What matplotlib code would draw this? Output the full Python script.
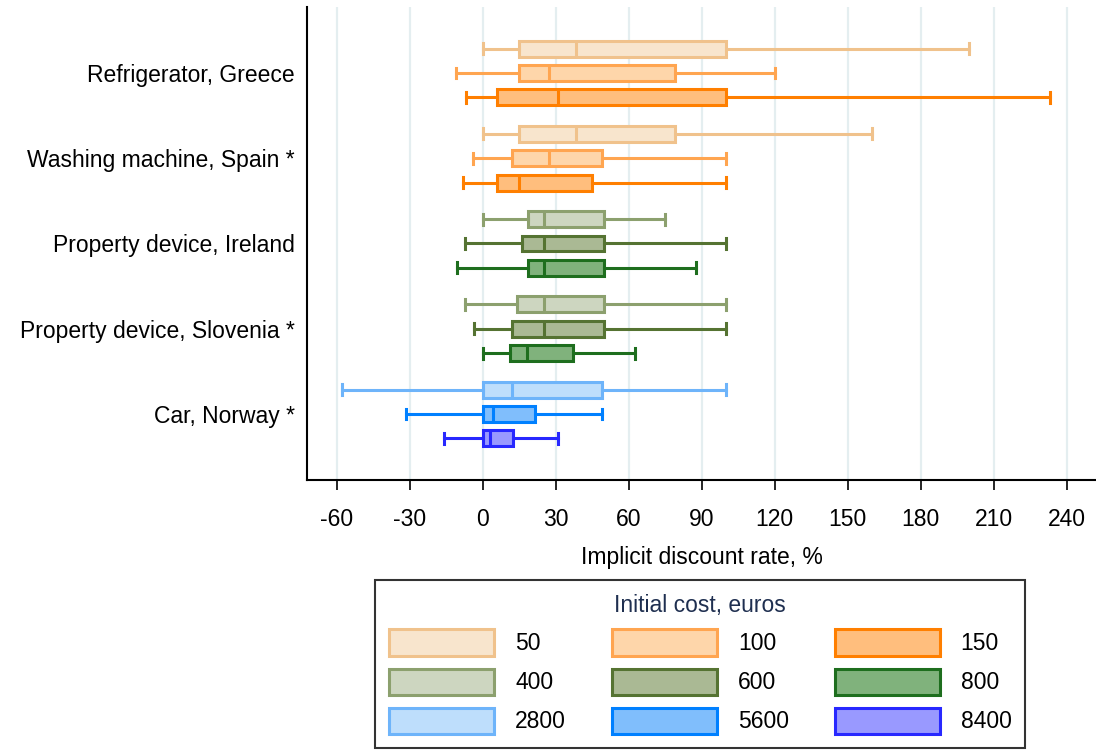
import matplotlib.pyplot as plt
from matplotlib.patches import Patch

plt.rcParams['font.family'] = ['Liberation Sans', 'DejaVu Sans']
plt.rcParams['axes.unicode_minus'] = False

# Products, top to bottom
products = ['Refrigerator, Greece', 'Washing machine, Spain *', 'Property device, Ireland',
            'Property device, Slovenia *', 'Car, Norway *']

# Initial cost levels shown for each product (three per product)
costs = [['50', '100', '150'],
         ['50', '100', '150'],
         ['400', '600', '800'],
         ['400', '600', '800'],
         ['2800', '5600', '8400']]

# Box statistics, % : lower whisker, q1, median, q3, upper whisker
whis_lo = [[0, -11, -7], [0, -4, -8], [0, -7.5, -10.5], [-7.5, -3.5, 0], [-58, -31.5, -16]]
q1 = [[15, 15, 6], [15, 12, 6], [18.5, 16, 18.5], [14, 12, 11], [0, 0, 0]]
med = [[38.5, 27, 31], [38.5, 27, 15], [25, 25, 25], [25, 25, 18], [12, 4, 3]]
q3 = [[100, 79, 100], [79, 49, 45], [50, 50, 50], [50, 50, 37], [49, 21.5, 12.5]]
whis_hi = [[200, 120, 233], [160, 100, 100], [75, 100, 87.5], [100, 100, 62.5], [100, 49, 31]]

# fill / edge colour per cost level
fill = {'50': '#f8e5cd', '100': '#fed6aa', '150': '#ffbe7d',
        '400': '#cdd6c0', '600': '#aab994', '800': '#80b27c',
        '2800': '#bedefc', '5600': '#80befc', '8400': '#9999ff'}
edge = {'50': '#f0c28c', '100': '#ffa550', '150': '#ff7f00',
        '400': '#8ca06e', '600': '#557332', '800': '#1e6e1e',
        '2800': '#6eb4fa', '5600': '#0080ff', '8400': '#2828ff'}
# legend is filled column by column, so list it transposed to read row-wise
legend_order = ['50', '400', '2800', '100', '600', '5600', '150', '800', '8400']

fs = 16.5

fig = plt.figure(figsize=(10.96, 7.5), dpi=100)
ax = fig.add_axes([0.280, 0.36, 0.72, 0.6307])

group_gap = 3.5
for g in range(len(products)):
    for r in range(3):
        c = costs[g][r]
        stats = [dict(whislo=whis_lo[g][r], q1=q1[g][r], med=med[g][r],
                      q3=q3[g][r], whishi=whis_hi[g][r], fliers=[])]
        ec = edge[c]
        ax.bxp(stats, positions=[g * group_gap + r], widths=0.65, capwidths=0.45,
               vert=False, patch_artist=True, showfliers=False, manage_ticks=False,
               boxprops=dict(facecolor=fill[c], edgecolor=ec, linewidth=2.2),
               medianprops=dict(color=ec, linewidth=2.2),
               whiskerprops=dict(color=ec, linewidth=2.2),
               capprops=dict(color=ec, linewidth=2.2))

ax.set_ylim(17.71, -1.71)
ax.set_yticks([g * group_gap + 1 for g in range(len(products))])
ax.set_yticklabels(products, fontsize=fs)
ax.tick_params(axis='y', length=0, pad=8.5)

ax.set_xlim(-72.3, 252)
ax.set_xticks(range(-60, 241, 30))
ax.tick_params(axis='x', labelsize=fs, length=7, width=1.2, pad=13)
ax.set_xlabel('Implicit discount rate, %', fontsize=fs, labelpad=11)
ax.grid(axis='x', color='#e4eef0', linewidth=1.6)
ax.set_axisbelow(True)

for s in ['top', 'right']:
    ax.spines[s].set_visible(False)
for s in ['left', 'bottom']:
    ax.spines[s].set_linewidth(1.5)

handles = [Patch(facecolor=fill[c], edgecolor=edge[c], linewidth=2.2) for c in legend_order]
leg = fig.legend(handles, legend_order, ncol=3, loc='center', bbox_to_anchor=(0.639, 0.1147),
                 fontsize=fs, title='Initial cost, euros', title_fontsize=fs,
                 handlelength=4.6, handleheight=1.4, handletextpad=0.9, columnspacing=2.0,
                 labelspacing=0.55, borderpad=0.6, fancybox=False, edgecolor='black')
leg.get_frame().set_linewidth(1.5)
leg.get_title().set_color('#1f2f50')

fig.savefig('out.png', dpi=100)
